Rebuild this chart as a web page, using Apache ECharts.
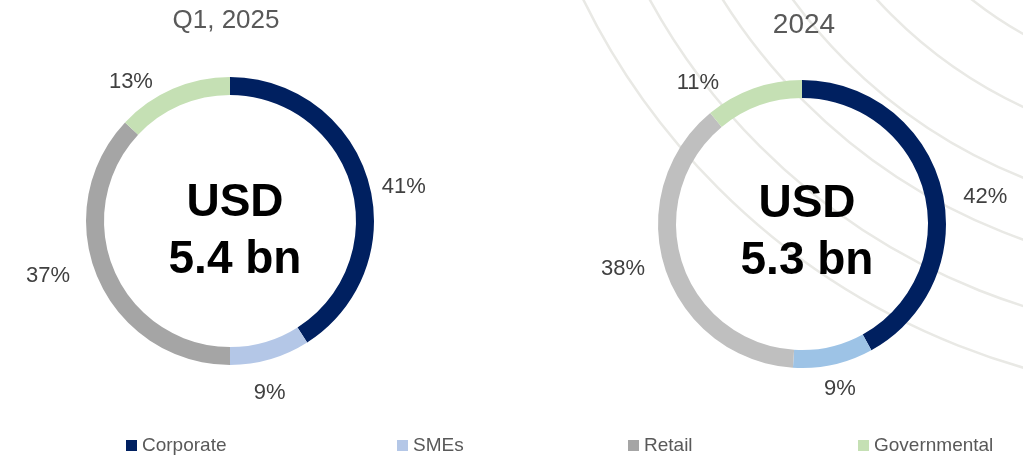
<!DOCTYPE html>
<html>
<head>
<meta charset="utf-8">
<script src="https://cdn.jsdelivr.net/npm/echarts@6/dist/echarts.min.js"></script>
<style>
  html, body { margin: 0; padding: 0; background: #fff; }
  #chart { width: 1023px; height: 458px; }
</style>
</head>
<body>
<div id="chart"></div>
<script>
// loan book split by segment
const segments = ['Corporate', 'SMEs', 'Retail', 'Governmental'];
const share2025 = [41, 9, 37, 13];
const share2024 = [42, 9, 38, 11];
const periods = ['Q1, 2025', '2024'];
const totals = ['USD\n5.4 bn', 'USD\n5.3 bn'];

const colors2025 = ['#002060', '#B4C7E7', '#A5A5A5', '#C5E0B4'];
const colors2024 = ['#002060', '#9DC3E6', '#BFBFBF', '#C5E0B4'];

// small hand nudges so labels sit where the slide had them
const nudge2025 = [[-3, 14], [-10, 6], [-13, -14], [-26, 20]];
const nudge2024 = [[5, 16], [-1, -4], [-4, -9], [-42, 22]];

const R_OUT = 144, R_IN = 126;
const centers = [[230, 221], [802, 224]];

// put each % label just outside the ring, along the slice's mid angle
function labelPlacer(values, c, nudge) {
  const total = values.reduce((a, b) => a + b, 0);
  return function (params) {
    const i = params.dataIndex;
    let before = 0;
    for (let k = 0; k < i; k++) before += values[k];
    const mid = (before + values[i] / 2) / total * Math.PI * 2;
    const ux = Math.sin(mid), uy = -Math.cos(mid);
    const hw = params.labelRect.width / 2, hh = params.labelRect.height / 2;
    const gap = 18;
    return {
      x: c[0] + (R_OUT + gap) * ux + hw * ux + nudge[i][0],
      y: c[1] + (R_OUT + gap) * uy + hh * uy + nudge[i][1],
      align: 'center',
      verticalAlign: 'middle'
    };
  };
}

function ring(values, cols, c, nudge) {
  return {
    type: 'pie',
    center: c,
    radius: [R_IN, R_OUT],
    startAngle: 90,
    clockwise: true,
    avoidLabelOverlap: false,
    silent: true,
    data: segments.map((s, i) => ({ name: s, value: values[i], itemStyle: { color: cols[i] } })),
    label: {
      show: true,
      position: 'outside',
      formatter: '{c}%',
      color: '#404040',
      fontSize: 22,
      fontFamily: 'Liberation Sans, Arial, sans-serif'
    },
    labelLine: { show: false },
    labelLayout: labelPlacer(values, c, nudge)
  };
}

const arcRadii = [707, 648, 585, 527, 462, 397];

const chart = echarts.init(document.getElementById('chart'), null, { renderer: 'canvas' });
chart.setOption({
  animation: false,
  backgroundColor: '#fff',
  textStyle: { fontFamily: 'Liberation Sans, Arial, sans-serif' },
  graphic: arcRadii.map(r => ({
    type: 'circle',
    z: -10,
    silent: true,
    shape: { cx: 1218, cy: -312, r: r },
    style: { fill: null, stroke: '#e9e9e5', lineWidth: 2.5 }
  })),
  title: [
    { text: periods[0], left: 221, top: 3, textAlign: 'center',
      textStyle: { fontSize: 26, fontWeight: 'normal', color: '#595959' } },
    { text: periods[1], left: 799, top: 6, textAlign: 'center',
      textStyle: { fontSize: 28, fontWeight: 'normal', color: '#595959' } },
    { text: totals[0], left: centers[0][0], top: 170, textAlign: 'center',
      textStyle: { fontSize: 46, fontWeight: 'bold', color: '#000', lineHeight: 57 } },
    { text: totals[1], left: centers[1][0], top: 171, textAlign: 'center',
      textStyle: { fontSize: 46, fontWeight: 'bold', color: '#000', lineHeight: 57 } }
  ],
  legend: [121, 392, 623, 853].map((x, i) => ({
    data: [segments[i]],
    left: x,
    top: 431,
    icon: 'rect',
    itemWidth: 11,
    itemHeight: 11,
    itemGap: 5,
    selectedMode: false,
    textStyle: { fontSize: 19, color: '#595959' }
  })),
  series: [
    ring(share2025, colors2025, centers[0], nudge2025),
    ring(share2024, colors2024, centers[1], nudge2024)
  ]
});
</script>
</body>
</html>
